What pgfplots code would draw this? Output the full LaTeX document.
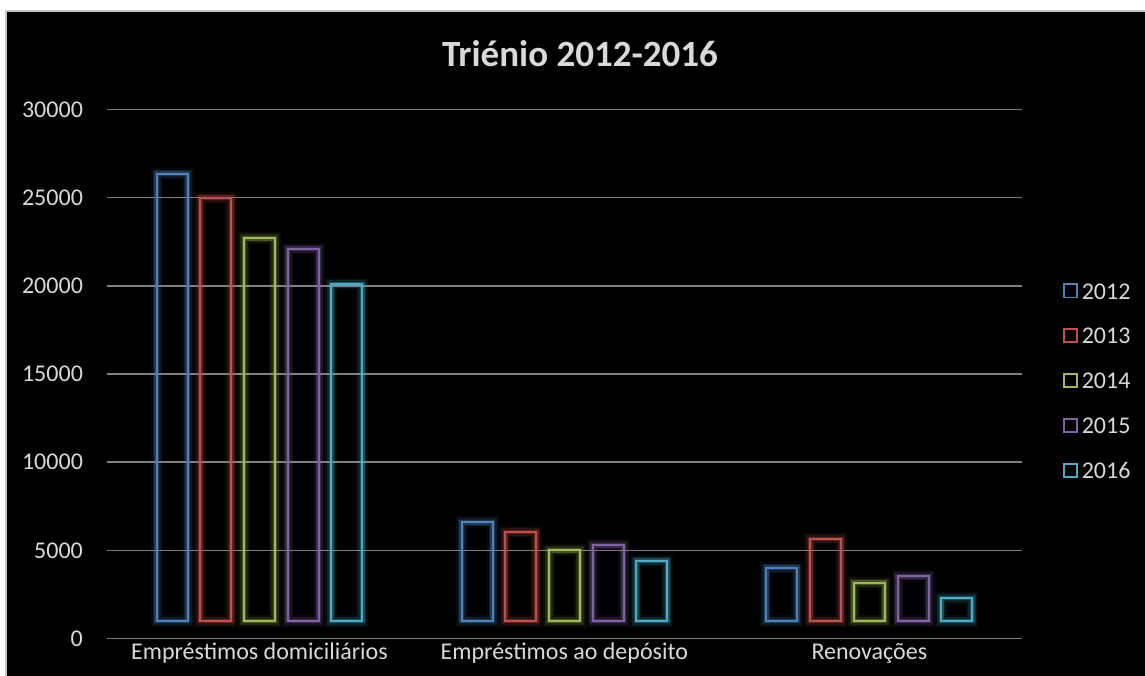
\documentclass[border=0pt]{standalone}
\usepackage{fontspec}
\setmainfont{Carlito}
\usepackage{pgfplots}
\usepackage{pgfplotstable}
\pgfplotsset{compat=1.18}

\definecolor{c2012}{RGB}{79,129,189}
\definecolor{c2013}{RGB}{192,80,77}
\definecolor{c2014}{RGB}{155,187,89}
\definecolor{c2015}{RGB}{128,100,162}
\definecolor{c2016}{RGB}{75,172,198}
\definecolor{gridgray}{RGB}{128,128,128}
\definecolor{txt}{RGB}{217,217,217}

% rows: 0 = domiciliarios, 1 = ao deposito, 2 = renovacoes
\pgfplotstableread{
idx y2012 y2013 y2014 y2015 y2016
0   26350 25000 22700 22100 20100
1   6600  6050  5000  5300  4430
2   4030  5650  3180  3540  2310
}\data

\pgfplotsset{
  glow/.style={
    draw=#1, fill=none, line width=1pt,
    preaction={draw=#1, draw opacity=0.08, line width=6pt},
    preaction={draw=#1, draw opacity=0.15, line width=4pt},
    preaction={draw=#1, draw opacity=0.30, line width=2.4pt},
  },
  % plain square for the legend
  sq/.style={legend image code/.code={%
    \draw[draw=#1, line width=0.9pt] (0.45pt,-3.2pt) rectangle (6.95pt,3.4pt);}},
  base/.style={
    width=457.4pt, height=264.7pt, scale only axis,
    at={(53.5pt,18.15pt)}, anchor=south west,
    xmin=-0.5, xmax=2.5,
  },
}

\begin{document}
\begin{tikzpicture}
\useasboundingbox (0,0) rectangle (572.5pt,337.5pt);
\fill[white] (0,0) rectangle (572.5pt,337.5pt);
\draw[fill=black, draw=gray!45, line width=0.8pt] (3pt,-5pt) rectangle (580pt,332pt);

% grid, ticks and title
\begin{axis}[
  base,
  ymin=0, ymax=30000,
  ytick={0,5000,...,30000},
  xtick={0,1,2},
  xticklabels={Empréstimos domiciliários, Empréstimos ao depósito, Renovações},
  scaled y ticks=false,
  /pgf/number format/1000 sep={},
  /pgf/number format/assume math mode=true,
  axis line style={draw=none},
  tick style={draw=none},
  ymajorgrids,
  grid style={draw=gridgray, line width=0.75pt},
  ticklabel style={font=\fontsize{12}{14}\selectfont, text=txt},
  yticklabel style={anchor=east, inner sep=0pt, xshift=-11.85pt},
  xticklabel style={anchor=base, inner sep=0pt, yshift=-10.4pt},
  title={Triénio 2012-2016},
  title style={font=\fontsize{18.5}{22}\selectfont\bfseries, text=txt,
    at={(axis description cs:0.517,1.0591)}, anchor=base, inner sep=0pt},
]
\end{axis}

% bars, drawn from 1000 upwards as in the original
\begin{axis}[
  base,
  ymin=-1000, ymax=29000,
  hide axis,
  ybar=6.35pt, bar width=15.5pt,
  y filter/.expression={y-1000},
  legend style={at={(axis description cs:1.045,0.487)}, anchor=west,
    draw=none, fill=none, inner sep=0pt, outer sep=0pt,
    row sep=14.45pt, column sep=0pt,
    font=\fontsize{12}{14}\selectfont, text=txt,
    nodes={inner xsep=2pt, inner ysep=0pt, text height=8pt, text depth=0pt}},
  legend cell align=left,
]
\addlegendimage{sq=c2012}
\addlegendimage{sq=c2013}
\addlegendimage{sq=c2014}
\addlegendimage{sq=c2015}
\addlegendimage{sq=c2016}
\addplot[glow=c2012] table[x=idx, y=y2012] {\data};
\addplot[glow=c2013] table[x=idx, y=y2013] {\data};
\addplot[glow=c2014] table[x=idx, y=y2014] {\data};
\addplot[glow=c2015] table[x=idx, y=y2015] {\data};
\addplot[glow=c2016] table[x=idx, y=y2016] {\data};
\legend{2012,2013,2014,2015,2016}
\end{axis}
\end{tikzpicture}
\end{document}
